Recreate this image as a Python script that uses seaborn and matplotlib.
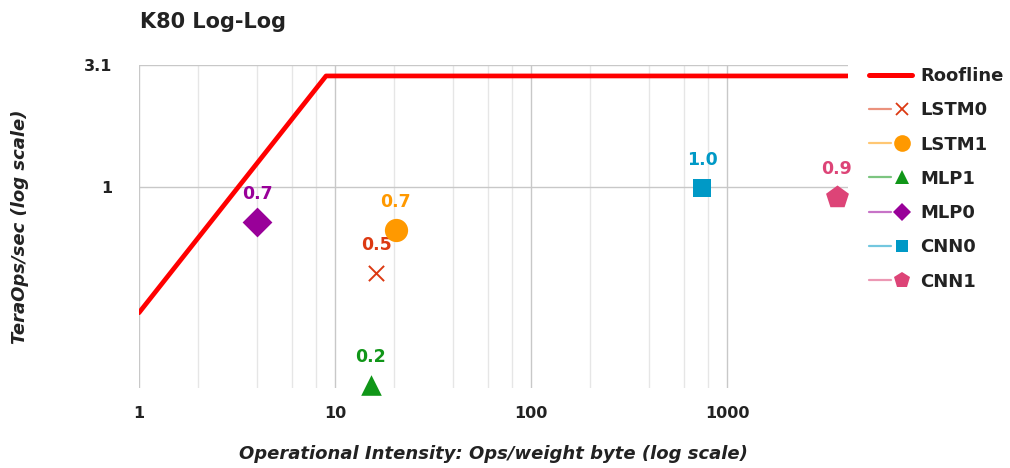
import numpy as np
import pandas as pd
import matplotlib
matplotlib.use("Agg")
import matplotlib.pyplot as plt
from matplotlib.lines import Line2D
from matplotlib.legend_handler import HandlerTuple
from matplotlib.ticker import FixedLocator, NullFormatter
import seaborn as sns

# data
workloads = ["LSTM0", "LSTM1", "MLP1", "MLP0", "CNN0", "CNN1"]
intensity = [16.2, 20.4, 15.2, 4.0, 745, 3630]
teraops = [0.45, 0.67, 0.158, 0.72, 0.99, 0.91]
point_labels = ["0.5", "0.7", "0.2", "0.7", "1.0", "0.9"]

roof_x = [1, 9, 4140]
roof_y = [0.31, 2.8, 2.8]

x_ticks = [1, 10, 100, 1000]
x_minor = [2, 4, 6, 8, 20, 40, 60, 80, 200, 400, 600, 800]
y_ticks = [1, 3.1]
y_ticklabels = ["1", "3.1"]

colors = ["#dc3912", "#ff9900", "#109618", "#990099", "#0099c6", "#dd4477"]
markers = ["x", "o", "^", "D", "s", "p"]
sizes = [120, 280, 220, 230, 180, 300]
leg_sizes = [8, 12, 10, 9, 9, 12]

sns.set_theme(style="white")
plt.rcParams["font.family"] = ["DejaVu Sans"]

df = pd.DataFrame({"workload": workloads, "intensity": intensity, "teraops": teraops})
roof = pd.DataFrame({"x": roof_x, "y": roof_y})

fig = plt.figure(figsize=(10.1, 4.68), dpi=100)
ax = fig.add_axes([139 / 1010, 1 - 388 / 468, (848 - 139) / 1010, (388 - 65) / 468])
ax.set_xscale("log")
ax.set_yscale("log")

ax.xaxis.set_major_locator(FixedLocator(x_ticks))
ax.xaxis.set_minor_locator(FixedLocator(x_minor))
ax.xaxis.set_minor_formatter(NullFormatter())
ax.set_xticklabels([str(t) for t in x_ticks])
ax.yaxis.set_major_locator(FixedLocator(y_ticks))
ax.yaxis.set_minor_locator(FixedLocator([]))
ax.set_yticklabels(y_ticklabels)

ax.grid(True, which="major", axis="both", color="#c8c8c8", linewidth=1.0)
ax.grid(True, which="minor", axis="x", color="#e6e6e6", linewidth=1.0)
ax.set_axisbelow(True)
for s in ax.spines.values():
    s.set_visible(False)
ax.tick_params(which="both", length=0)
ax.tick_params(axis="x", pad=13, labelsize=11.5, labelcolor="#222222")
ax.tick_params(axis="y", pad=19, labelsize=11.5, labelcolor="#222222")
for lbl in ax.get_xticklabels() + ax.get_yticklabels():
    lbl.set_fontweight("bold")

sns.lineplot(data=roof, x="x", y="y", color="#ff0000", linewidth=3.4, ax=ax, zorder=2)

for i, row in df.iterrows():
    kw = dict(linewidth=1.4) if markers[i] == "x" else dict(edgecolor=colors[i], linewidth=0)
    sns.scatterplot(x=[row["intensity"]], y=[row["teraops"]], marker=markers[i], s=sizes[i],
                    color=colors[i], ax=ax, zorder=3, clip_on=False, **kw)
    ax.annotate(point_labels[i], (row["intensity"], row["teraops"]), textcoords="offset points",
                xytext=(0, 20), ha="center", va="center", fontsize=12.5, fontweight="bold",
                color=colors[i])

ax.set_xlim(1, roof_x[-1])
ax.set_ylim(0.154, 3.1)

ax.set_xlabel("Operational Intensity: Ops/weight byte (log scale)", fontsize=13,
              fontweight="bold", fontstyle="italic", color="#222222")
ax.set_ylabel("TeraOps/sec (log scale)", fontsize=13, fontweight="bold",
              fontstyle="italic", color="#222222")
ax.xaxis.set_label_coords(0.5, -0.178)
ax.yaxis.set_label_coords(-0.155, 0.5)

fig.text(140 / 1010, 1 - 22 / 468, "K80 Log-Log", fontsize=15, fontweight="bold",
         color="#222222", va="center", ha="left")

handles = [Line2D([], [], color="#ff0000", linewidth=3.6)]
for i in range(len(workloads)):
    line = Line2D([], [], color=colors[i], linewidth=1.6, alpha=0.55)
    mk = Line2D([], [], color=colors[i], marker=markers[i], linestyle="none",
                markersize=leg_sizes[i], markeredgewidth=1.3 if markers[i] == "x" else 0)
    handles.append((line, mk))
labels = ["Roofline"] + workloads

leg = fig.legend(handles, labels, loc="upper left", bbox_to_anchor=(860 / 1010, 1 - 58 / 468),
                 frameon=False, borderpad=0, handlelength=2.4, handletextpad=0.45,
                 labelspacing=0.9, handler_map={tuple: HandlerTuple(ndivide=None, pad=0)},
                 prop={"size": 13, "weight": "bold"})
for t in leg.get_texts():
    t.set_color("#222222")

fig.savefig("out.png", dpi=100)
